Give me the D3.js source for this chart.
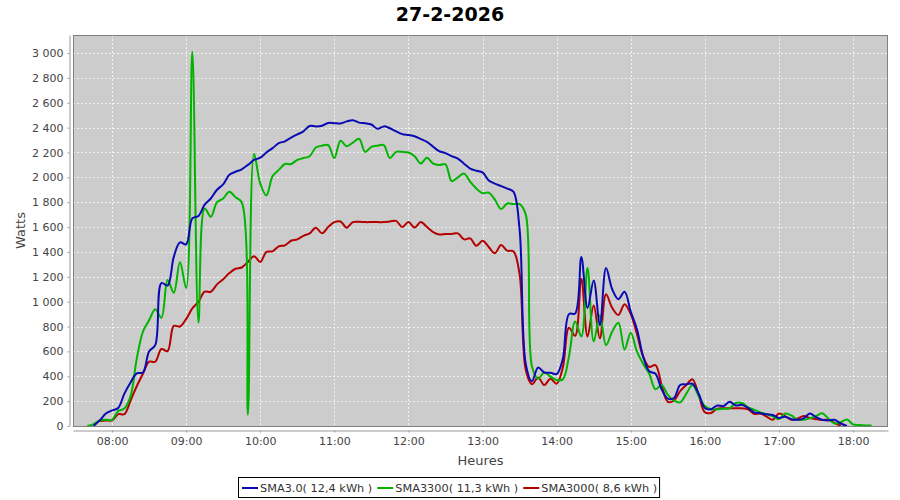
<!DOCTYPE html>
<meta charset="utf-8">
<style>
body { margin: 0; background: #fff; }
text { font-family: "DejaVu Sans", sans-serif; }
.grid line { stroke: #f2f2f2; stroke-width: 1; stroke-dasharray: 2,2; }
.axis path, .axis line { stroke: #999; }
.axis text { fill: #444; font-size: 11px; }
</style>
<body>
<script src="https://d3js.org/d3.v7.min.js"></script>
<script>
// one reading every 5 minutes
var times = [
  "07:40","07:45","07:50","07:55",
  "08:00","08:05","08:10","08:15","08:20","08:25","08:30","08:35","08:40","08:45","08:50","08:55",
  "09:00","09:05","09:10","09:15","09:20","09:25","09:30","09:35","09:40","09:45","09:50","09:55",
  "10:00","10:05","10:10","10:15","10:20","10:25","10:30","10:35","10:40","10:45","10:50","10:55",
  "11:00","11:05","11:10","11:15","11:20","11:25","11:30","11:35","11:40","11:45","11:50","11:55",
  "12:00","12:05","12:10","12:15","12:20","12:25","12:30","12:35","12:40","12:45","12:50","12:55",
  "13:00","13:05","13:10","13:15","13:20","13:25","13:30","13:35","13:40","13:45","13:50","13:55",
  "14:00","14:05","14:10","14:15","14:20","14:25","14:30","14:35","14:40","14:45","14:50","14:55",
  "15:00","15:05","15:10","15:15","15:20","15:25","15:30","15:35","15:40","15:45","15:50","15:55",
  "16:00","16:05","16:10","16:15","16:20","16:25","16:30","16:35","16:40","16:45","16:50","16:55",
  "17:00","17:05","17:10","17:15","17:20","17:25","17:30","17:35","17:40","17:45","17:50","17:55",
  "18:00","18:05","18:10","18:15","18:20"
];

var sma30 = [
  null, 0, 45, 100,
  125, 145, 260, 350, 424, 430, 600, 650, 1150, 1130, 1360, 1477,
  1461, 1670, 1690, 1780, 1830, 1900, 1944, 2020, 2045, 2065, 2100, 2140,
  2158, 2200, 2235, 2275, 2290, 2320, 2345, 2370, 2413, 2410, 2415, 2438,
  2436, 2433, 2450, 2460, 2440, 2435, 2425, 2390, 2410, 2395, 2370, 2348,
  2340, 2330, 2308, 2285, 2246, 2210, 2195, 2171, 2150, 2110, 2071, 2053,
  2040, 1975, 1950, 1930, 1910, 1885, 1580, 500, 360, 470, 430, 428,
  418, 540, 900, 905, 1360, 950, 1170, 810, 1270, 1100, 1020, 1080,
  920, 780, 560, 440, 420, 295, 220, 225, 330, 335, 340, 260,
  145, 135, 165, 160, 195, 165, 170, 145, 110, 102, 95, 88,
  65, 75, 55, 50, 62, 100, 72, 50, 45, 50, 20, 0,
  null, null, null, null, null
];

var sma3300 = [
  0, 15, 45, 50,
  50, 120, 140, 240, 540, 758, 850, 940, 870, 1174, 1072, 1320,
  1110, 3010, 830, 1750, 1683, 1800, 1830, 1884, 1840, 1800, 90, 2190,
  1950, 1855, 2010, 2060, 2107, 2107, 2140, 2155, 2170, 2240, 2255, 2260,
  2155, 2295, 2250, 2280, 2310, 2205, 2245, 2255, 2260, 2155, 2205, 2205,
  2200, 2170, 2112, 2158, 2110, 2099, 2105, 1970, 2000, 2030, 1965, 1910,
  1872, 1877, 1820, 1745, 1790, 1785, 1785, 1700, 480, 380, 430, 397,
  370, 375, 560, 840, 720, 1270, 680, 890, 650, 760, 830, 615,
  750, 600, 500, 420, 295, 330, 250, 205, 190, 260, 330, 240,
  160, 135, 134, 138, 142, 185, 185, 150, 130, 110, 95, 78,
  55, 100, 85, 50, 50, 62, 80, 102, 60, 20, 30, 52,
  13, 8, 5, 5, null
];

var sma3000 = [
  null, null, 40, 45,
  45, 95, 95, 205, 320, 420, 517, 517, 619, 603, 805, 800,
  860, 946, 1000, 1080, 1080, 1139, 1180, 1230, 1265, 1275, 1320, 1365,
  1320, 1400, 1405, 1445, 1453, 1490, 1501, 1530, 1549, 1595, 1550, 1600,
  1640, 1645, 1595, 1640, 1643, 1640, 1640, 1640, 1640, 1645, 1650, 1600,
  1640, 1597, 1640, 1600, 1560, 1541, 1544, 1545, 1549, 1501, 1509, 1450,
  1490, 1440, 1390, 1455, 1410, 1405, 1220, 450, 335, 390, 330, 380,
  340, 470, 790, 725, 1185, 720, 970, 705, 1060, 950, 893, 980,
  900, 740, 560, 475, 490, 330, 195, 205, 280, 330, 375, 250,
  110, 105, 140, 142, 142, 142, 142, 135, 97, 100, 75, 50,
  100, 80, 50, 60, 80, 65, 55, 48, 50, 25, 0, null,
  null, null, null, null, null
];

var seriesNames = ["SMA3.0( 12,4 kWh )", "SMA3300( 11,3 kWh )", "SMA3000( 8,6 kWh )"];
var seriesColors = ["#0a0ab4", "#00b400", "#b40000"];
var hourTicks = ["08:00","09:00","10:00","11:00","12:00","13:00","14:00","15:00","16:00","17:00","18:00"];
var wattTicks = [0, 200, 400, 600, 800, 1000, 1200, 1400, 1600, 1800, 2000, 2200, 2400, 2600, 2800, 3000];

var width = 900, height = 500;
var pLeft = 73, pRight = 888, pTop = 35, pBottom = 426;

function toMin(s) {
  var p = s.split(":");
  return +p[0] * 60 + +p[1];
}

var x = d3.scaleLinear()
    .domain([toMin("07:28") + 0.4, toMin("18:28") + 0.3])
    .range([pLeft, pRight]);

var y = d3.scaleLinear()
    .domain([0, 3145])
    .range([pBottom, pTop]);

var fr = d3.formatLocale({decimal: ",", thousands: "\u00a0", grouping: [3], currency: ["", " €"]});
var fmtW = fr.format(",d");

var svg = d3.select("body").append("svg")
    .attr("width", width)
    .attr("height", height);

svg.append("rect")
    .attr("x", pLeft).attr("y", pTop)
    .attr("width", pRight - pLeft).attr("height", pBottom - pTop)
    .attr("fill", "#cccccc");

var grid = svg.append("g").attr("class", "grid");
grid.selectAll("line.v")
  .data(hourTicks)
  .enter().append("line")
    .attr("class", "v")
    .attr("x1", d => Math.round(x(toMin(d))) + 0.5).attr("x2", d => Math.round(x(toMin(d))) + 0.5)
    .attr("y1", pTop).attr("y2", pBottom);
grid.selectAll("line.h")
  .data(wattTicks.slice(1))
  .enter().append("line")
    .attr("class", "h")
    .attr("x1", pLeft).attr("x2", pRight)
    .attr("y1", d => Math.round(y(d)) + 0.5).attr("y2", d => Math.round(y(d)) + 0.5);

svg.append("clipPath").attr("id", "clip")
  .append("rect")
    .attr("x", pLeft).attr("y", pTop)
    .attr("width", pRight - pLeft).attr("height", pBottom - pTop);

var line = d3.line()
    .defined(d => d.v != null)
    .x(d => x(toMin(d.t)))
    .y(d => y(d.v))
    .curve(d3.curveCatmullRom.alpha(0.5));

var allSeries = [sma30, sma3300, sma3000];
// last series drawn first, so the first one ends on top
var lines = svg.append("g").attr("clip-path", "url(#clip)");
for (var i = allSeries.length - 1; i >= 0; i--) {
  var pts = times.map((t, j) => ({t: t, v: allSeries[i][j]}));
  lines.append("path")
      .datum(pts)
      .attr("fill", "none")
      .attr("stroke", seriesColors[i])
      .attr("stroke-width", 2)
      .attr("stroke-linejoin", "round")
      .attr("d", line);
}

svg.append("rect")
    .attr("x", pLeft + 0.5).attr("y", pTop + 0.5)
    .attr("width", pRight - pLeft - 1).attr("height", pBottom - pTop)
    .attr("fill", "none")
    .attr("stroke", "#808080");

var xAxis = d3.axisBottom(x)
    .tickValues(hourTicks.map(toMin))
    .tickFormat((d, i) => hourTicks[i])
    .tickSize(2).tickSizeOuter(0).tickPadding(5);

svg.append("g")
    .attr("class", "axis")
    .attr("transform", "translate(0,430.5)")
    .call(xAxis);

var yAxis = d3.axisLeft(y)
    .tickValues(wattTicks)
    .tickFormat(fmtW)
    .tickSize(2).tickSizeOuter(0).tickPadding(4);

svg.append("g")
    .attr("class", "axis")
    .attr("transform", "translate(69.5,0)")
    .call(yAxis);

svg.append("text")
    .attr("x", 450).attr("y", 21)
    .attr("text-anchor", "middle")
    .style("font-size", "19px").style("font-weight", "bold")
    .attr("fill", "#000")
    .text("27-2-2026");

svg.append("text")
    .attr("x", (pLeft + pRight) / 2).attr("y", 465)
    .attr("text-anchor", "middle")
    .style("font-size", "13px")
    .attr("fill", "#444")
    .text("Heures");

svg.append("text")
    .attr("transform", "translate(25," + ((pTop + pBottom) / 2) + ")rotate(-90)")
    .attr("text-anchor", "middle")
    .style("font-size", "13px")
    .attr("fill", "#444")
    .text("Watts");

// legend
var legend = svg.append("g");
var box = legend.append("rect")
    .attr("fill", "#fff")
    .attr("stroke", "#000");
var cx = 0;
var items = legend.selectAll("g.item")
  .data(seriesNames)
  .enter().append("g")
    .attr("class", "item");
items.each(function(d, i) {
  var g = d3.select(this);
  g.append("line")
      .attr("x1", cx + 2).attr("x2", cx + 18)
      .attr("y1", 0).attr("y2", 0)
      .attr("stroke", seriesColors[i])
      .attr("stroke-width", 2);
  var t = g.append("text")
      .attr("x", cx + 20).attr("y", 4)
      .style("font-size", "11.3px")
      .attr("fill", "#333")
      .text(d);
  cx += 20 + t.node().getComputedTextLength() + 3;
});
var lx = Math.round(450 - cx / 2);
legend.attr("transform", "translate(" + lx + ",488)");
box.attr("x", -1.5).attr("y", -10.5).attr("width", cx + 1).attr("height", 20);
</script>
</body>
